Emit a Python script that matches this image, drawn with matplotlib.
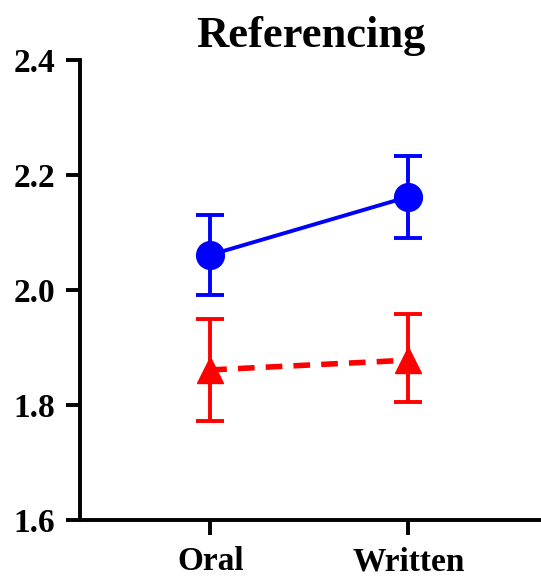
"""
Referencing: oral vs written, two groups with error bars
"""
import numpy as np
import matplotlib
matplotlib.use('Agg')
import matplotlib.pyplot as plt

categories = ['Oral', 'Written']
blue_mean = [2.061, 2.162]
blue_lo = [1.991, 2.090]
blue_hi = [2.130, 2.233]
red_mean = [1.861, 1.878]
red_lo = [1.772, 1.805]
red_hi = [1.950, 1.958]
yticks = [1.6, 1.8, 2.0, 2.2, 2.4]

plt.rcParams['font.family'] = ['Liberation Serif', 'DejaVu Serif']
plt.rcParams['font.weight'] = 'bold'

fig = plt.figure(figsize=(5.41, 5.82), dpi=100)
ax = fig.add_axes([0.148, 0.1065, 0.852, 0.7905])

x = np.arange(len(categories))
bm = np.array(blue_mean)
rm = np.array(red_mean)
berr = [bm - np.array(blue_lo), np.array(blue_hi) - bm]
rerr = [rm - np.array(red_lo), np.array(red_hi) - rm]

ax.errorbar(x, bm, yerr=berr, color='#0000ff', marker='o', markersize=20,
            linewidth=2.8, elinewidth=2.8, capsize=10, capthick=2.8)
ax.errorbar(x, rm, yerr=rerr, color='#ff0000', marker='^', markersize=19,
            linewidth=4, linestyle=(0, (3, 2)), elinewidth=2.8,
            capsize=10, capthick=2.8)

ax.set_xlim(-0.657, 1.67)
ax.set_ylim(1.6, 2.4)
ax.set_xticks(x)
ax.set_xticklabels(categories)
ax.set_yticks(yticks)
ax.set_yticklabels(['%.1f' % t for t in yticks])
ax.tick_params(axis='both', labelsize=24, width=2.8, length=10, pad=8)
ax.tick_params(axis='x', length=11, pad=8)
for lab in ax.get_xticklabels() + ax.get_yticklabels():
    lab.set_fontweight('bold')

for s in ['top', 'right']:
    ax.spines[s].set_visible(False)
for s in ['left', 'bottom']:
    ax.spines[s].set_linewidth(2.8)

ax.set_title('Referencing', fontsize=32, fontweight='bold', pad=9)

fig.savefig('out.png', dpi=100)
